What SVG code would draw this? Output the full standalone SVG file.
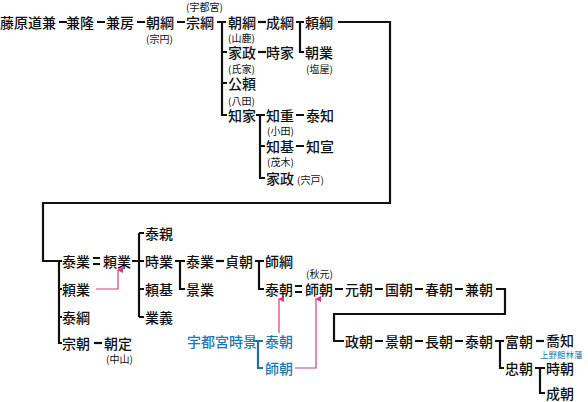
<svg xmlns="http://www.w3.org/2000/svg" width="588" height="402" viewBox="0 0 588 402">
<style>
text{font-family:"Noto Sans CJK JP","Noto Sans",sans-serif;dominant-baseline:central;fill:#111}
.n{font-size:14px;font-weight:500}
.s{font-size:10px}
.b{fill:#1f78b4}
.bs{font-size:8.5px;fill:#1f78b4}
.c path{fill:none;stroke:#111;stroke-width:2.2}
.cb path{fill:none;stroke:#1f6fae;stroke-width:2.2}
.cp path{fill:none;stroke:#d8397a;stroke-width:1.2}
</style>
<defs>
<marker id="ar" viewBox="0 0 6 6" refX="3" refY="1" markerWidth="6" markerHeight="6" markerUnits="userSpaceOnUse" orient="auto-start-reverse">
<path d="M0,6 L3,0 L6,6 z" fill="#d8397a"/>
</marker>
</defs>
<rect width="588" height="402" fill="#fff"/>
<g class="c" id="connectors">
<path d="M59,22H67M97,22H105M137,22H145M177,22H185"/>
<path d="M217,22H226M222,22V115H227M222,52H227M222,83H227"/>
<path d="M258,22H266"/>
<path d="M296,22H304M300,22V52H304"/>
<path d="M338,22H390V203H43V261H62M59,261V343H62M59,289H62M59,317H62"/>
<path d="M258,52H266"/>
<path d="M256,115H265M260,115V178H265M260,146H265"/>
<path d="M296,115H304M296,146H304"/>
<path d="M93,258H100M93,264H100" stroke-width="1.3"/>
<path d="M132,261H144M139,233V317M139,233H144M139,289H144M139,317H144"/>
<path d="M175,261H185M180,261V289H185"/>
<path d="M216,261H224"/>
<path d="M255,261H264M259,261V289H264"/>
<path d="M295,286H302M295,292H302" stroke-width="1.3"/>
<path d="M335,289H343M375,289H383M415,289H423M455,289H463"/>
<path d="M496,289H505V314H334V341H344"/>
<path d="M375,341H383M415,341H423M455,341H463"/>
<path d="M495,341H504M500,341V368H504"/>
<path d="M536,341H544"/>
<path d="M535,368H545M540,368V393H545"/>
<path d="M94,343H102"/>
</g>
<g class="cb" id="connectors-blue">
<path d="M253,341H263M258,341V368H263"/>
</g>
<g class="cp" id="connectors-pink">
<path d="M96,289H118V270" marker-end="url(#ar)"/>
<path d="M279,333V299" marker-end="url(#ar)"/>
<path d="M295,368H316V299" marker-end="url(#ar)"/>
</g>
<g id="n-michikane"><text class="n" x="0" y="22" font-weight="700">藤原道兼</text></g>
<g id="n-kanetaka"><text class="n" x="66" y="22">兼隆</text></g>
<g id="n-kanefusa"><text class="n" x="106" y="22">兼房</text></g>
<g id="n-tomotsuna1"><text class="n" x="146" y="22">朝綱</text><text class="s" x="146" y="38">(宗円)</text></g>
<g id="n-munetsuna"><text class="n" x="186" y="22">宗綱</text><text class="s" x="186" y="6">(宇都宮)</text></g>
<g id="n-tomotsuna2"><text class="n" x="228" y="22">朝綱</text></g>
<g id="n-naritsuna"><text class="n" x="266" y="22">成綱</text></g>
<g id="n-yoritsuna"><text class="n" x="305" y="22">頼綱</text></g>
<g id="n-tomonari"><text class="n" x="305" y="52">朝業</text><text class="s" x="306" y="68">(塩屋)</text></g>
<g id="n-iemasa1"><text class="n" x="228" y="52">家政</text><text class="s" x="228" y="37">(山鹿)</text></g>
<g id="n-tokiie"><text class="n" x="266" y="52">時家</text></g>
<g id="n-kinyori"><text class="n" x="228" y="83">公頼</text><text class="s" x="228" y="68">(氏家)</text></g>
<g id="n-tomoie"><text class="n" x="228" y="115">知家</text><text class="s" x="228" y="100">(八田)</text></g>
<g id="n-tomoshige"><text class="n" x="266" y="115">知重</text><text class="s" x="267" y="130">(小田)</text></g>
<g id="n-yasutomo"><text class="n" x="306" y="115">泰知</text></g>
<g id="n-tomomoto"><text class="n" x="266" y="146">知基</text><text class="s" x="267" y="161">(茂木)</text></g>
<g id="n-tomonobu"><text class="n" x="306" y="146">知宣</text></g>
<g id="n-iemasa2"><text class="n" x="266" y="178">家政</text><text class="s" x="297" y="179">(宍戸)</text></g>
<g id="n-yasunari1"><text class="n" x="62" y="261">泰業</text></g>
<g id="n-yorinari1"><text class="n" x="103" y="261">頼業</text></g>
<g id="n-yorinari2"><text class="n" x="62" y="289">頼業</text></g>
<g id="n-yasutsuna"><text class="n" x="62" y="317">泰綱</text></g>
<g id="n-munetomo"><text class="n" x="62" y="343">宗朝</text></g>
<g id="n-tomosada"><text class="n" x="104" y="343">朝定</text><text class="s" x="106" y="358">(中山)</text></g>
<g id="n-yasuchika"><text class="n" x="145" y="233">泰親</text></g>
<g id="n-tokinari"><text class="n" x="145" y="261">時業</text></g>
<g id="n-yorimoto"><text class="n" x="145" y="289">頼基</text></g>
<g id="n-nariyoshi"><text class="n" x="145" y="317">業義</text></g>
<g id="n-yasunari2"><text class="n" x="186" y="261">泰業</text></g>
<g id="n-kagenari"><text class="n" x="186" y="289">景業</text></g>
<g id="n-sadatomo"><text class="n" x="225" y="261">貞朝</text></g>
<g id="n-morotsuna"><text class="n" x="265" y="261">師綱</text></g>
<g id="n-yasutomo1"><text class="n" x="265" y="289">泰朝</text></g>
<g id="n-morotomo1"><text class="n" x="305" y="289">師朝</text><text class="s" x="306" y="273">(秋元)</text></g>
<g id="n-mototomo"><text class="n" x="345" y="289">元朝</text></g>
<g id="n-kunitomo"><text class="n" x="385" y="289">国朝</text></g>
<g id="n-harutomo"><text class="n" x="425" y="289">春朝</text></g>
<g id="n-kanetomo"><text class="n" x="465" y="289">兼朝</text></g>
<g id="n-masatomo"><text class="n" x="345" y="341">政朝</text></g>
<g id="n-kagetomo"><text class="n" x="385" y="341">景朝</text></g>
<g id="n-nagatomo"><text class="n" x="425" y="341">長朝</text></g>
<g id="n-yasutomo2"><text class="n" x="465" y="341">泰朝</text></g>
<g id="n-tomitomo"><text class="n" x="505" y="341">富朝</text></g>
<g id="n-takatomo"><text class="n" x="546" y="340">喬知</text><text class="bs" x="540" y="354">上野館林藩</text></g>
<g id="n-tadatomo"><text class="n" x="505" y="368">忠朝</text></g>
<g id="n-tokitomo"><text class="n" x="546" y="368">時朝</text></g>
<g id="n-naritomo"><text class="n" x="546" y="393">成朝</text></g>
<g id="n-tokikage"><text class="n b" x="187" y="341" font-size="13">宇都宮時景</text></g>
<g id="n-yasutomo-b"><text class="n b" x="265" y="341">泰朝</text></g>
<g id="n-morotomo-b"><text class="n b" x="265" y="368">師朝</text></g>
</svg>
